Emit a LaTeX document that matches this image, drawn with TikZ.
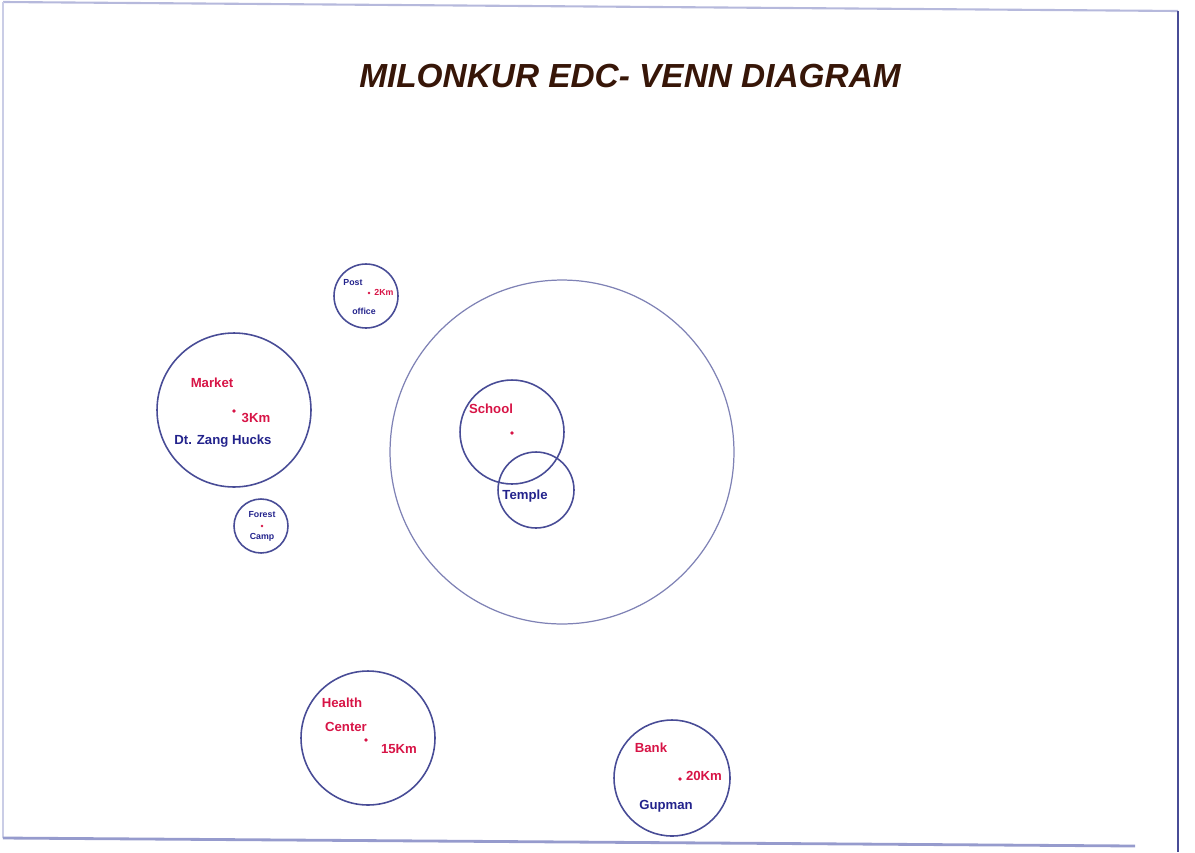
\documentclass[tikz,border=0pt]{standalone}
\usepackage{fontspec}
\setmainfont{Liberation Sans}
\usetikzlibrary{positioning}
\definecolor{ringblue}{RGB}{72,76,150}
\definecolor{inkred}{RGB}{215,20,70}
\definecolor{inkblue}{RGB}{35,35,140}
\definecolor{inkbrown}{RGB}{55,22,8}
\definecolor{paperedge}{RGB}{150,155,205}

\begin{document}
\begin{tikzpicture}[
            x=0.02cm, y=-0.02cm,
            venn/.style={circle,draw=ringblue,line width=0.9pt,inner sep=0pt},
            place/.style={text=inkred,font=\fontsize{7.5}{8}\selectfont\bfseries,inner sep=0pt},
            note/.style={text=inkblue,font=\fontsize{7.5}{8}\selectfont\bfseries,inner sep=0pt},
            spot/.style={circle,fill=inkred,inner sep=0pt,minimum size=2.2pt},
            ]
            \useasboundingbox (0,0) rectangle (1195,852);

            % edges of the sheet
            \coordinate (tl) at (3,2);
            \coordinate (tr) at (1178,11);
            \coordinate (br) at (1178,852);
            \coordinate (bl) at (3,838);
            \coordinate (bm) at (1135,846);
            \draw[paperedge!70, line width=1.2pt] (tl) -- (tr);
            \draw[ringblue, line width=1pt] (tr) -- (br);
            \draw[paperedge!50, line width=0.6pt] (tl) -- (bl);
            \draw[paperedge, line width=1.6pt] (bl) -- (bm);

            \node[text=inkbrown, font=\fontsize{19}{22}\selectfont\bfseries\itshape] (title) at (630,76) {MILONKUR EDC- VENN DIAGRAM};

            % circles
            \node[venn, minimum size=1.28cm] (post) at (366,296) {};
            \node[venn, minimum size=3.08cm] (market) at (234,410) {};
            \node[venn, minimum size=1.08cm] (forest) at (261,526) {};
            \node[venn, minimum size=6.88cm, draw=ringblue!70, line width=0.7pt] (edc) at (562,452) {};
            \node[venn, minimum size=2.08cm] (school) at (512,432) {};
            \node[venn, minimum size=1.52cm] (temple) at (536,490) {};
            \node[venn, minimum size=2.68cm] (health) at (368,738) {};
            \node[venn, minimum size=2.32cm] (bank) at (672,778) {};

            % labels
            \node[note, font=\fontsize{5}{6}\selectfont\bfseries] (posta) at (353,283) {Post};
            \node[spot, minimum size=1.6pt] (postdot) at (369,293) {};
            \node[place, font=\fontsize{5}{6}\selectfont\bfseries] (postkm) at (384,292) {2Km};
            \node[note, font=\fontsize{5}{6}\selectfont\bfseries] (postb) at (364,311) {office};

            \node[place] (marketa) at (212,383) {Market};
            \node[spot] (marketdot) at (234,411) {};
            \node[place] (marketkm) at (256,418) {3Km};
            \node[note] (marketb) at (223,441) {Dt. Zang Hucks};

            \node[note, font=\fontsize{5}{6}\selectfont\bfseries] (foresta) at (262,515) {Forest};
            \node[spot, minimum size=1.6pt] (forestdot) at (262,526) {};
            \node[note, font=\fontsize{5}{6}\selectfont\bfseries] (forestb) at (262,537) {Camp};

            \node[place] (schoola) at (491,409) {School};
            \node[spot] (schooldot) at (512,433) {};

            \node[note] (templea) at (525,496) {Temple};

            \node[place] (healtha) at (342,703) {Health};
            \node[place] (healthb) at (346,727) {Center};
            \node[spot] (healthdot) at (366,740) {};
            \node[place] (healthkm) at (399,749) {15Km};

            \node[place] (banka) at (651,748) {Bank};
            \node[spot] (bankdot) at (680,779) {};
            \node[place] (bankkm) at (704,776) {20Km};
            \node[note] (bankb) at (666,806) {Gupman};
        \end{tikzpicture}
\end{document}
